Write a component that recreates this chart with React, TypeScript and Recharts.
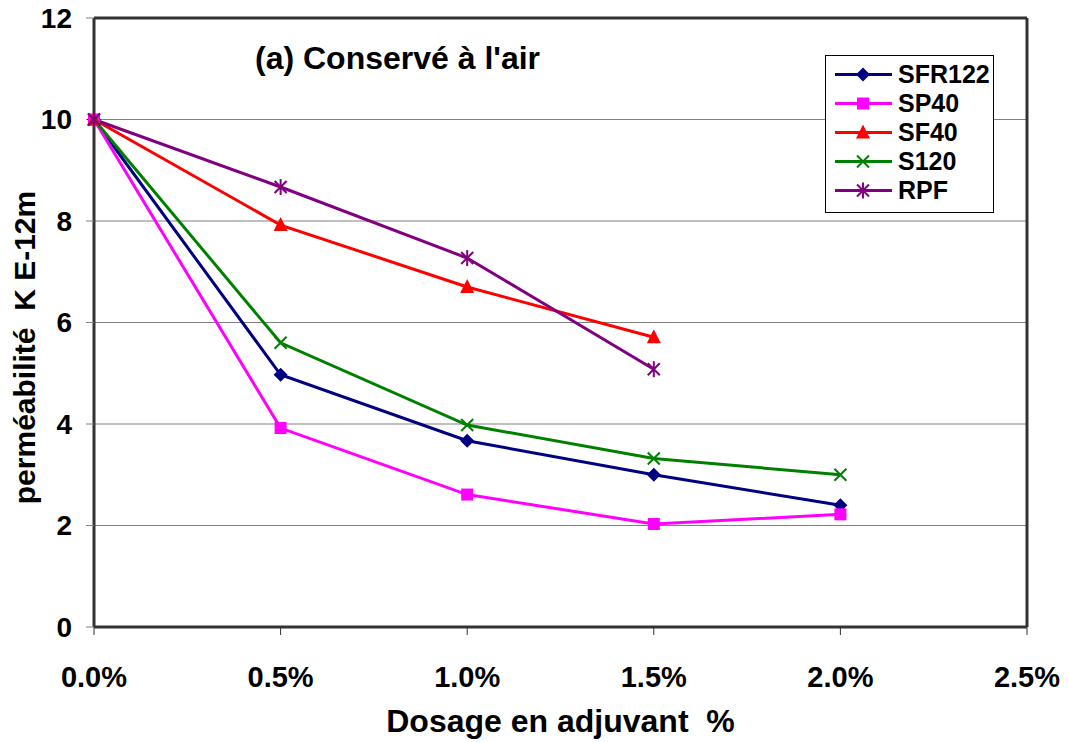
import { LineChart, Line, XAxis, YAxis, CartesianGrid, ReferenceLine } from 'recharts'

const doses = [0, 0.5, 1.0, 1.5, 2.0]
const sfr122 = [10, 4.97, 3.67, 3.0, 2.4]
const sp40 = [10, 3.92, 2.61, 2.03, 2.22]
const sf40 = [10, 7.92, 6.7, 5.71, null]
const s120 = [10, 5.6, 3.98, 3.32, 3.0]
const rpf = [10, 8.67, 7.27, 5.08, null]
const xTicks = [0, 0.5, 1.0, 1.5, 2.0, 2.5]
const yTicks = [0, 2, 4, 6, 8, 10, 12]

const FONT = '"Liberation Sans", Arial, sans-serif'

const rows = doses.map((d, i) => ({
  dose: d,
  SFR122: sfr122[i],
  SP40: sp40[i],
  SF40: sf40[i],
  S120: s120[i],
  RPF: rpf[i],
}))

type Shape = 'diamond' | 'square' | 'triangle' | 'cross' | 'star'

const series: { key: string; color: string; shape: Shape }[] = [
  { key: 'SFR122', color: '#000080', shape: 'diamond' },
  { key: 'SP40', color: '#FF00FF', shape: 'square' },
  { key: 'SF40', color: '#FF0000', shape: 'triangle' },
  { key: 'S120', color: '#008000', shape: 'cross' },
  { key: 'RPF', color: '#800080', shape: 'star' },
]

function Marker({ cx, cy, color, shape }: { cx: number; cy: number; color: string; shape: Shape }) {
  if (shape === 'diamond')
    return <polygon points={`${cx},${cy - 7} ${cx + 7},${cy} ${cx},${cy + 7} ${cx - 7},${cy}`} fill={color} />
  if (shape === 'square') return <rect x={cx - 6} y={cy - 6} width={12} height={12} fill={color} />
  if (shape === 'triangle')
    return <polygon points={`${cx},${cy - 8} ${cx + 7},${cy + 6} ${cx - 7},${cy + 6}`} fill={color} />
  const arms = (
    <>
      <line x1={cx - 6} y1={cy - 6} x2={cx + 6} y2={cy + 6} stroke={color} strokeWidth={2} />
      <line x1={cx - 6} y1={cy + 6} x2={cx + 6} y2={cy - 6} stroke={color} strokeWidth={2} />
    </>
  )
  if (shape === 'cross') return <g>{arms}</g>
  return (
    <g>
      {arms}
      <line x1={cx} y1={cy - 8} x2={cx} y2={cy + 8} stroke={color} strokeWidth={2} />
    </g>
  )
}

// legend box drawn over the plot, top-right like the excel original
const LegendBox = () => (
  <div
    style={{
      position: 'absolute',
      left: 825,
      top: 55,
      width: 169,
      height: 158,
      border: '1px solid #000',
      background: '#fff',
      boxSizing: 'border-box',
      paddingTop: 4,
    }}
  >
    {series.map((s) => (
      <div key={s.key} style={{ display: 'flex', alignItems: 'center', height: 29 }}>
        <svg width={72} height={29}>
          <line x1={9} y1={14.5} x2={66} y2={14.5} stroke={s.color} strokeWidth={3} />
          <Marker cx={37} cy={14.5} color={s.color} shape={s.shape} />
        </svg>
        <span style={{ fontFamily: FONT, fontWeight: 'bold', fontSize: 25, color: '#000' }}>{s.key}</span>
      </div>
    ))}
  </div>
)

const YLabel = ({ viewBox }: any) => {
  const x = viewBox.x - 30
  const y = viewBox.y + viewBox.height / 2 + 25
  return (
    <text
      x={x}
      y={y}
      transform={`rotate(-90, ${x}, ${y})`}
      textAnchor="middle"
      dominantBaseline="central"
      style={{ fontFamily: FONT, fontWeight: 'bold', fontSize: 30 }}
      fill="#000"
    >
      {'perméabilité\u00A0\u00A0K E-12m'}
    </text>
  )
}

export default function App() {
  return (
    <div style={{ position: 'absolute', left: 0, top: 0, width: 1068, height: 742, background: '#fff' }}>
      <LineChart width={1068} height={742} data={rows} margin={{ top: 18, right: 41, left: 54, bottom: 0 }}>
        <CartesianGrid horizontal vertical={false} stroke="#808080" strokeWidth={1} />
        <XAxis
          dataKey="dose"
          type="number"
          domain={[0, 2.5]}
          ticks={xTicks}
          tickFormatter={(v) => `${v.toFixed(1)}%`}
          stroke="#333"
          axisLine={{ stroke: '#333', strokeWidth: 3 }}
          tickLine={{ stroke: '#333', strokeWidth: 1 }}
          tickSize={8}
          tickMargin={31}
          height={115}
          tick={{ fill: '#000', fontFamily: FONT, fontWeight: 'bold', fontSize: 29 }}
          label={{
            value: 'Dosage en adjuvant\u00A0\u00A0%',
            position: 'insideBottom',
            offset: 10,
            style: { fontFamily: FONT, fontWeight: 'bold', fontSize: 32, fill: '#000' },
          }}
        />
        <YAxis
          type="number"
          domain={[0, 12]}
          ticks={yTicks}
          width={40}
          axisLine={{ stroke: '#333', strokeWidth: 3 }}
          tickLine={{ stroke: '#808080', strokeWidth: 1 }}
          tickSize={8}
          tickMargin={14}
          tick={{ fill: '#000', fontFamily: FONT, fontWeight: 'bold', fontSize: 28 }}
          label={<YLabel />}
        />
        <ReferenceLine y={12} stroke="#333" strokeWidth={3} />
        <ReferenceLine x={2.5} stroke="#333" strokeWidth={3} />
        {series.map((s) => (
          <Line
            key={s.key}
            dataKey={s.key}
            name={s.key}
            stroke={s.color}
            strokeWidth={3}
            isAnimationActive={false}
            connectNulls={false}
            dot={(p: any) =>
              p.cy == null || p.value == null ? (
                <g key={`${s.key}-${p.index}`} />
              ) : (
                <g key={`${s.key}-${p.index}`}>
                  <Marker cx={p.cx} cy={p.cy} color={s.color} shape={s.shape} />
                </g>
              )
            }
          />
        ))}
      </LineChart>
      <LegendBox />
      <div
        style={{
          position: 'absolute',
          left: 255,
          top: 40,
          fontFamily: FONT,
          fontWeight: 'bold',
          fontSize: 32,
          color: '#000',
          whiteSpace: 'pre',
        }}
      >
        (a) Conservé à l'air
      </div>
    </div>
  )
}
